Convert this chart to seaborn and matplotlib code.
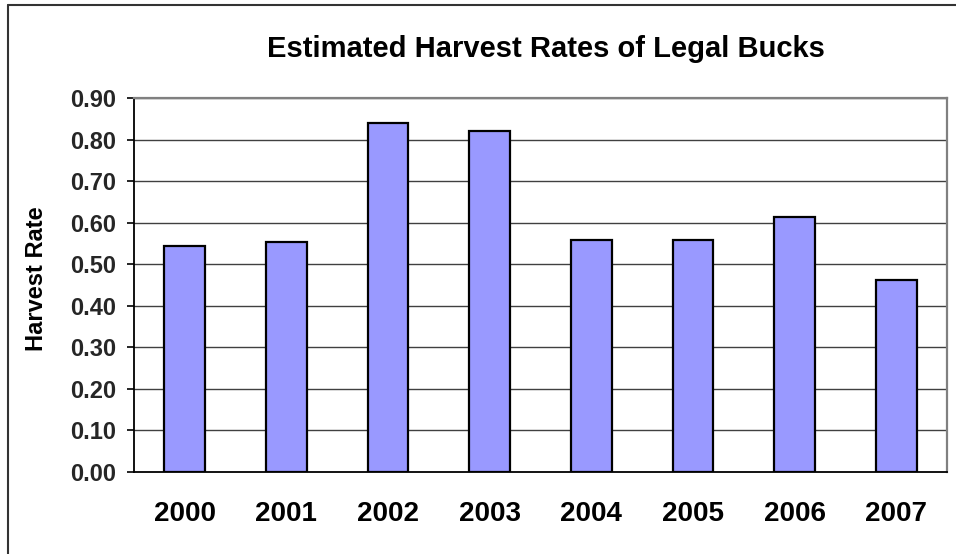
import matplotlib
matplotlib.use("Agg")
import matplotlib.pyplot as plt
from matplotlib.lines import Line2D
import seaborn as sns
import pandas as pd
import numpy as np

years = ["2000", "2001", "2002", "2003", "2004", "2005", "2006", "2007"]
harvest_rate = [0.544, 0.553, 0.840, 0.820, 0.558, 0.558, 0.614, 0.462]
y_ticks = [0.0, 0.1, 0.2, 0.3, 0.4, 0.5, 0.6, 0.7, 0.8, 0.9]

sns.set_theme(style="white")
plt.rcParams["font.family"] = ["Liberation Sans", "DejaVu Sans"]
plt.rcParams["font.weight"] = "bold"

df = pd.DataFrame({"Year": years, "Rate": harvest_rate})

W, H = 956, 554
fig = plt.figure(figsize=(W / 100, H / 100), dpi=100)
ax = fig.add_axes([134 / W, (H - 472) / H, (947 - 134) / W, (472 - 98) / H])

ax.set_axisbelow(True)
for v in y_ticks[1:]:
    ax.axhline(v, color="#404040", lw=1.0, zorder=0)

sns.barplot(data=df, x="Year", y="Rate", color="#9999FF", width=0.4,
            edgecolor="black", linewidth=1.6, saturation=1, ax=ax, zorder=2)

ax.set_xlim(-0.5, len(years) - 0.5)
ax.set_ylim(0, 0.9)
ax.set_yticks(y_ticks)
ax.set_yticklabels([f"{v:.2f}" for v in y_ticks], fontsize=17, fontweight="bold")
ax.set_xticks(range(len(years)))
ax.set_xticklabels(years, fontsize=20, fontweight="bold")
ax.set_xticks(np.arange(-0.5, len(years)), minor=True)
ax.tick_params(axis="x", which="major", length=0, pad=21, colors="black")
ax.tick_params(axis="x", which="minor", length=6, width=1.2, color="black", direction="out")
ax.tick_params(axis="y", which="major", length=5, width=1.2, color="black", pad=8, direction="out", left=True)

for side in ("top", "right"):
    ax.spines[side].set_color("#808080")
    ax.spines[side].set_linewidth(1.6)
for side in ("left", "bottom"):
    ax.spines[side].set_color("black")
    ax.spines[side].set_linewidth(1.3)

ax.set_xlabel("")
ax.set_ylabel("Harvest Rate", fontsize=17, fontweight="bold", color="black")
ax.yaxis.set_label_coords(-0.106, 0.516)

fig.text(546 / W, 1 - 49 / H, "Estimated Harvest Rates of Legal Bucks",
         ha="center", va="center", fontsize=21, fontweight="bold", color="black")

# chart-area frame along the left and top edges
fig.add_artist(Line2D([8 / W, 8 / W], [0, 1 - 5 / H], transform=fig.transFigure,
                      color="#333333", lw=1.5))
fig.add_artist(Line2D([8 / W, 1], [1 - 5 / H, 1 - 5 / H], transform=fig.transFigure,
                      color="#333333", lw=1.5))

fig.savefig("out.png", dpi=100)
